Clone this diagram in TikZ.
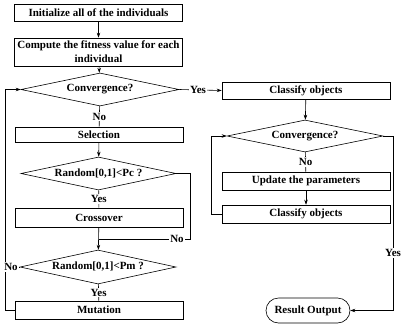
\documentclass[tikz,border=0pt]{standalone}
\usepackage{fontspec}
\setmainfont{Liberation Serif}
\usetikzlibrary{shapes.geometric,arrows.meta}
\begin{document}
\begin{tikzpicture}[x=1pt,y=-1pt,
  font=\fontsize{11}{14}\selectfont\bfseries,
  line width=0.6pt,
  every node/.style={inner sep=0pt},
  proc/.style={draw,rectangle,minimum width=168pt,align=center},
  decision/.style={draw,diamond,aspect=5},
  term/.style={draw,rectangle,rounded corners=12.5pt,minimum width=84pt,minimum height=25pt},
  lbl/.style={fill=white,inner sep=1pt},
  arr/.style={-{Stealth[length=5pt,width=3.5pt]}}
]
\useasboundingbox (0,0) rectangle (404,327);

% left column: genetic search
\node[proc,minimum height=17pt] (init) at (98.5,12.5) {Initialize all of the individuals};
\node[proc,minimum height=28pt] (fit) at (98.5,52) {Compute the fitness value for each\\individual};
\node[decision,minimum width=158pt,minimum height=33pt] (conv1) at (100,89.5) {Convergence?};
\node[proc,minimum height=15pt] (sel) at (99,134.5) {Selection};
\node[decision,minimum width=155pt,minimum height=33pt] (pc) at (98.5,173.5) {Random[0,1]<Pc ?};
\node[proc,minimum height=19pt] (cross) at (99,217.5) {Crossover};
\coordinate (join) at (99,239);
\node[decision,minimum width=156pt,minimum height=34pt] (pm) at (98,267) {Random[0,1]<Pm ?};
\node[proc,minimum height=18pt] (mut) at (99,310) {Mutation};

% right column: classification
\node[proc,minimum height=17pt] (cls1) at (306,90.5) {Classify objects};
\node[decision,minimum width=156pt,minimum height=32pt] (conv2) at (305,136) {Convergence?};
\node[proc,minimum height=18pt] (upd) at (306,181) {Update the parameters};
\node[proc,minimum height=18pt] (cls2) at (306,214) {Classify objects};
\node[term] (res) at (308,310.5) {Result Output};

% loop corners
\coordinate (pcR) at (190,173.5);
\coordinate (pcRd) at (190,239);
\coordinate (mutL) at (5,310);
\coordinate (convL) at (5,89.5);
\coordinate (pmL) at (5,267);
\coordinate (cls2L) at (211,214);
\coordinate (conv2L) at (211,136);
\coordinate (conv2R) at (393,136);
\coordinate (resR) at (393,310.5);

% connectors
\draw[arr] (init) -- (fit);
\draw[arr] (fit) -- (conv1);
\draw (conv1) -- (sel) node[lbl,pos=0.5] {No};
\draw[arr] (sel) -- (pc);
\draw (pc) -- (cross) node[lbl,pos=0.5] {Yes};
\draw[arr] (cross) -- (pm);
\draw (pc.east) -- (pcR) -- (pcRd) -- (join);
\draw (pm) -- (mut) node[lbl,pos=0.5] {Yes};
\draw[arr] (mut.west) -- (mutL) -- (convL) -- (conv1.west);
\draw (pm.west) -- (pmL);
\draw[arr] (conv1.east) -- (cls1.west);
\draw[arr] (cls1) -- (conv2);
\draw (conv2) -- (upd) node[lbl,pos=0.5] {No};
\draw[arr] (upd) -- (cls2);
\draw[arr] (cls2.west) -- (cls2L) -- (conv2L) -- (conv2.west);
\draw[arr] (conv2.east) -- (conv2R) -- (resR) -- (res.east);

% branch labels sitting on lines
\node[lbl] at (177,239) {No};
\node[lbl] at (11,267) {No};
\node[lbl] at (198,89.5) {Yes};
\node[lbl] at (393,253) {Yes};
\end{tikzpicture}
\end{document}
